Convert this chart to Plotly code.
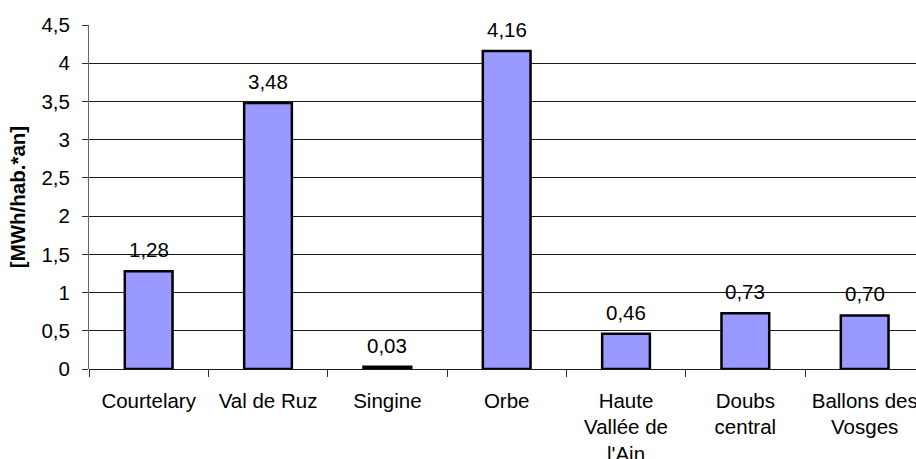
import plotly.graph_objects as go

# Consumption per inhabitant and per year, by region
regions = [
    "Courtelary",
    "Val de Ruz",
    "Singine",
    "Orbe",
    "Haute<br>Vallée de<br>l'Ain",
    "Doubs<br>central",
    "Ballons des<br>Vosges",
]
values = [1.28, 3.48, 0.03, 4.16, 0.46, 0.73, 0.70]
y_ticks = [0, 0.5, 1, 1.5, 2, 2.5, 3, 3.5, 4, 4.5]

FONT = "Arial, Liberation Sans, sans-serif"
FS = 20.5

fig = go.Figure()
fig.add_trace(go.Bar(
    x=regions,
    y=values,
    marker=dict(color="#9999FF", line=dict(color="#000000", width=2.5)),
    hoverinfo="x+y",
))

# Value labels above each bar, with a comma as decimal mark
for r, v in zip(regions, values):
    fig.add_annotation(
        x=r, y=v, text=f"{v:.2f}".replace(".", ","),
        showarrow=False, yanchor="bottom", yshift=8,
        font=dict(family=FONT, size=FS, color="#000000"),
    )

fig.update_layout(
    width=916, height=459,
    margin=dict(l=89, r=0, t=25, b=90, autoexpand=False),
    paper_bgcolor="#ffffff", plot_bgcolor="#ffffff",
    separators=",.",
    bargap=0.6,
    showlegend=False,
    font=dict(family=FONT, size=FS, color="#000000"),
)
fig.update_xaxes(
    type="category",
    range=[-0.5, 6.43],
    automargin=False,
    tickson="boundaries",
    ticks="outside", ticklen=7, tickcolor="#333333", tickwidth=1,
    ticklabelstandoff=17,
    showgrid=False,
    showline=False,
    tickfont=dict(family=FONT, size=FS, color="#000000"),
    fixedrange=True,
)
fig.update_yaxes(
    range=[0, 4.5],
    automargin=False,
    tickvals=y_ticks,
    ticks="outside", ticklen=6, tickcolor="#333333", tickwidth=1,
    ticklabelstandoff=8,
    showgrid=True, gridcolor="#1a1a1a", gridwidth=1,
    zeroline=True, zerolinecolor="#1a1a1a", zerolinewidth=1,
    showline=True, linecolor="#666666", linewidth=1,
    tickfont=dict(family=FONT, size=FS, color="#000000"),
    title=dict(text="<b>[MWh/hab.*an]</b>", standoff=10,
               font=dict(family=FONT, size=FS, color="#000000")),
    fixedrange=True,
)

fig.write_html("out.html")
